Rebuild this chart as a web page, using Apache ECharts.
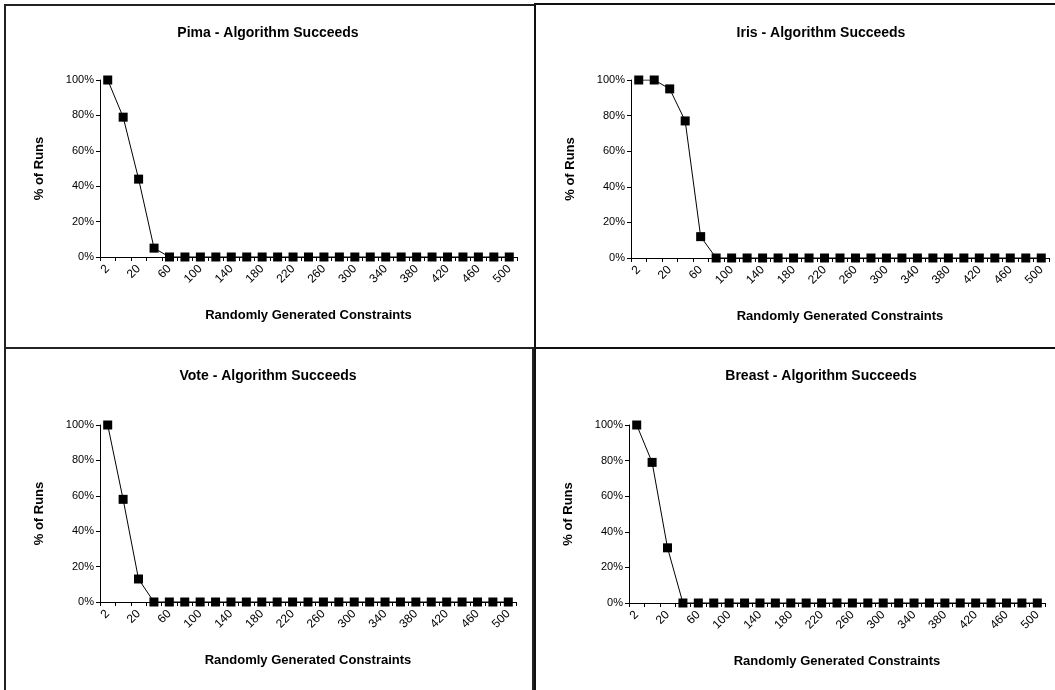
<!DOCTYPE html>
<html>
<head>
<meta charset="utf-8">
<script src="https://cdn.jsdelivr.net/npm/echarts@6/dist/echarts.min.js"></script>
<style>
  html, body { margin: 0; padding: 0; background: #fff; }
  #chart { width: 1055px; height: 690px; }
</style>
</head>
<body>
<div id="chart"></div>
<script>
// x categories: number of randomly generated constraints
const constraints = ['2', '10', '20', '40', '60', '80', '100', '120', '140', '160', '180', '200', '220',
  '240', '260', '280', '300', '320', '340', '360', '380', '400', '420', '440', '460', '480', '500'];

// % of runs where the algorithm succeeds
const pima   = [100, 79, 44, 5, 0, 0, 0, 0, 0, 0, 0, 0, 0, 0, 0, 0, 0, 0, 0, 0, 0, 0, 0, 0, 0, 0, 0];
const iris   = [100, 100, 95, 77, 12, 0, 0, 0, 0, 0, 0, 0, 0, 0, 0, 0, 0, 0, 0, 0, 0, 0, 0, 0, 0, 0, 0];
const vote   = [100, 58, 13, 0, 0, 0, 0, 0, 0, 0, 0, 0, 0, 0, 0, 0, 0, 0, 0, 0, 0, 0, 0, 0, 0, 0, 0];
const breast = [100, 79, 31, 0, 0, 0, 0, 0, 0, 0, 0, 0, 0, 0, 0, 0, 0, 0, 0, 0, 0, 0, 0, 0, 0, 0, 0];

const titles = ['Pima - Algorithm Succeeds', 'Iris - Algorithm Succeeds',
  'Vote - Algorithm Succeeds', 'Breast - Algorithm Succeeds'];

const FONT = '"Liberation Sans", Arial, sans-serif';

// panel layout (plot areas)
const grids = [
  { left: 100, top: 80, width: 417, height: 177 },
  { left: 631, top: 80, width: 418, height: 178 },
  { left: 100, top: 425, width: 416, height: 177 },
  { left: 629, top: 425, width: 416, height: 178 }
];
const titlePos = [[268, 33], [821, 33], [268, 376], [821, 376]];

const chart = echarts.init(document.getElementById('chart'));

const xAxes = grids.map((g, i) => ({
  type: 'category',
  gridIndex: i,
  data: constraints,
  boundaryGap: true,
  name: 'Randomly Generated Constraints',
  nameLocation: 'middle',
  nameGap: 52,
  nameTextStyle: { fontFamily: FONT, fontWeight: 'bold', fontSize: 13, color: '#000' },
  axisLine: { lineStyle: { color: '#000', width: 1 } },
  axisTick: { show: true, interval: 0, length: 4, lineStyle: { color: '#000' } },
  axisLabel: { interval: 1, rotate: 45, margin: 10, fontFamily: FONT, fontSize: 12, color: '#000' },
  splitLine: { show: false }
}));

const yAxes = grids.map((g, i) => ({
  type: 'value',
  gridIndex: i,
  min: 0,
  max: 100,
  interval: 20,
  name: '% of Runs',
  nameLocation: 'middle',
  nameGap: 54,
  nameRotate: 90,
  nameTextStyle: { fontFamily: FONT, fontWeight: 'bold', fontSize: 13, color: '#000' },
  axisLine: { show: true, lineStyle: { color: '#000', width: 1 } },
  axisTick: { show: true, length: 4, lineStyle: { color: '#000' } },
  axisLabel: { formatter: '{value}%', margin: 6, fontFamily: FONT, fontSize: 11, color: '#000' },
  splitLine: { show: false }
}));

const seriesData = [pima, iris, vote, breast];
const series = seriesData.map((d, i) => ({
  type: 'line',
  xAxisIndex: i,
  yAxisIndex: i,
  data: d,
  symbol: 'rect',
  symbolSize: 9,
  showAllSymbol: true,
  itemStyle: { color: '#000' },
  lineStyle: { color: '#000', width: 1 }
}));

// panel borders + titles
const graphic = [
  { type: 'rect', shape: { x: 5, y: 5, width: 530, height: 343 }, style: { fill: 'none', stroke: '#222', lineWidth: 2 } },
  { type: 'rect', shape: { x: 535, y: 4, width: 600, height: 344 }, style: { fill: 'none', stroke: '#111', lineWidth: 2 } },
  { type: 'rect', shape: { x: 5, y: 348, width: 528, height: 400 }, style: { fill: 'none', stroke: '#222', lineWidth: 2 } },
  { type: 'rect', shape: { x: 535, y: 348, width: 600, height: 400 }, style: { fill: 'none', stroke: '#111', lineWidth: 2 } }
].concat(titles.map((t, i) => ({
  type: 'text',
  x: titlePos[i][0],
  y: titlePos[i][1],
  style: {
    text: t,
    fill: '#000',
    font: 'bold 14px ' + FONT,
    textAlign: 'center',
    textVerticalAlign: 'middle'
  }
})));

chart.setOption({
  animation: false,
  backgroundColor: '#fff',
  grid: grids,
  xAxis: xAxes,
  yAxis: yAxes,
  series: series,
  graphic: graphic
});
</script>
</body>
</html>
